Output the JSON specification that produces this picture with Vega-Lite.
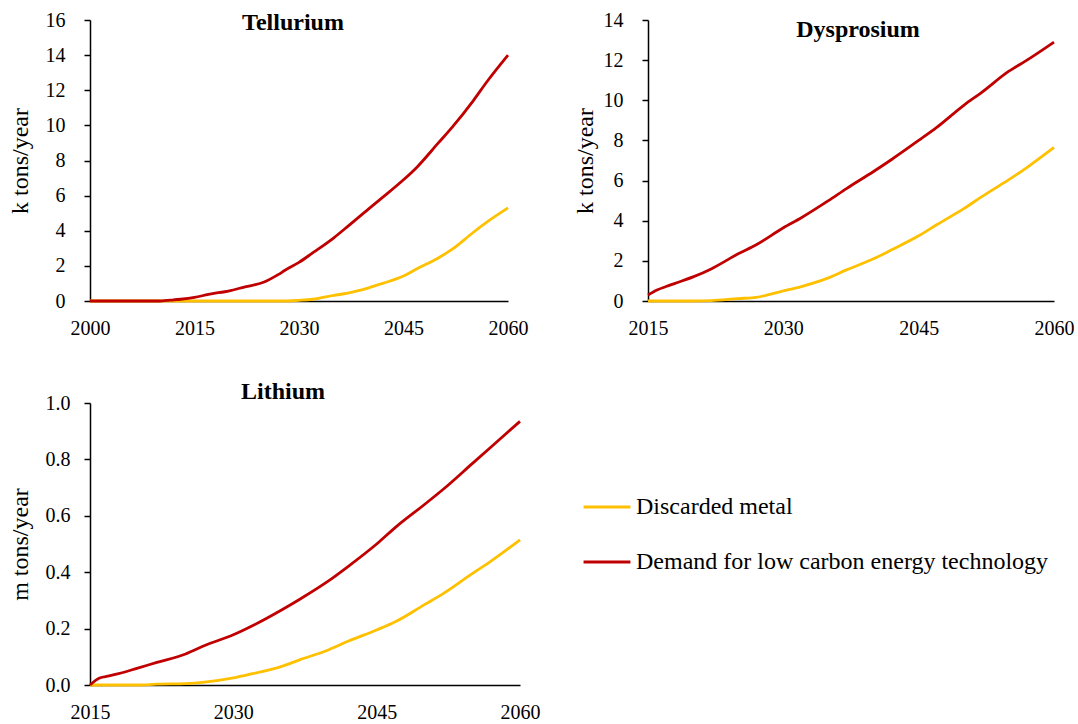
{
  "$schema": "https://vega.github.io/schema/vega-lite/v6.json",
  "background": "white",
  "padding": {"left": 8, "top": 10, "right": 0, "bottom": 0},
  "config": {
    "view": {"stroke": null},
    "font": "Liberation Serif, serif",
    "axis": {"labelFont": "Liberation Serif, serif", "labelFontSize": 20, "labelColor": "#000", "titleFont": "Liberation Serif, serif", "titleFontSize": 24, "titleFontWeight": "normal", "titleColor": "#000", "domainColor": "#000", "tickColor": "#000", "grid": false, "domainWidth": 1.5, "tickWidth": 1.5},
    "axisX": {"ticks": false, "labelPadding": 17, "labelFlush": false},
    "axisY": {"tickSize": 6, "labelPadding": 19, "titlePadding": 13},
    "title": {"font": "Liberation Serif, serif", "fontSize": 24, "fontWeight": "bold", "color": "#000", "frame": "group", "anchor": "middle"},
    "line": {"strokeWidth": 2.8, "interpolate": "monotone"}
  },
  "datasets": {
    "te": [
      {"year": 2000, "Discarded metal": 0, "Demand for low carbon energy technology": 0},
      {"year": 2005, "Discarded metal": 0, "Demand for low carbon energy technology": 0},
      {"year": 2010, "Discarded metal": 0, "Demand for low carbon energy technology": 0},
      {"year": 2011, "Discarded metal": 0, "Demand for low carbon energy technology": 0.03},
      {"year": 2012, "Discarded metal": 0, "Demand for low carbon energy technology": 0.07},
      {"year": 2013, "Discarded metal": 0, "Demand for low carbon energy technology": 0.1},
      {"year": 2015, "Discarded metal": 0, "Demand for low carbon energy technology": 0.2},
      {"year": 2017, "Discarded metal": 0, "Demand for low carbon energy technology": 0.38},
      {"year": 2020, "Discarded metal": 0, "Demand for low carbon energy technology": 0.58},
      {"year": 2022, "Discarded metal": 0, "Demand for low carbon energy technology": 0.78},
      {"year": 2025, "Discarded metal": 0, "Demand for low carbon energy technology": 1.08},
      {"year": 2027, "Discarded metal": 0, "Demand for low carbon energy technology": 1.5},
      {"year": 2028, "Discarded metal": 0, "Demand for low carbon energy technology": 1.75},
      {"year": 2030, "Discarded metal": 0.04, "Demand for low carbon energy technology": 2.2},
      {"year": 2032, "Discarded metal": 0.1, "Demand for low carbon energy technology": 2.75},
      {"year": 2035, "Discarded metal": 0.32, "Demand for low carbon energy technology": 3.6},
      {"year": 2037, "Discarded metal": 0.45, "Demand for low carbon energy technology": 4.25},
      {"year": 2040, "Discarded metal": 0.75, "Demand for low carbon energy technology": 5.25},
      {"year": 2042, "Discarded metal": 1.0, "Demand for low carbon energy technology": 5.9},
      {"year": 2045, "Discarded metal": 1.42, "Demand for low carbon energy technology": 6.9},
      {"year": 2047, "Discarded metal": 1.85, "Demand for low carbon energy technology": 7.65},
      {"year": 2050, "Discarded metal": 2.45, "Demand for low carbon energy technology": 9.0},
      {"year": 2052, "Discarded metal": 2.95, "Demand for low carbon energy technology": 9.9},
      {"year": 2055, "Discarded metal": 3.9, "Demand for low carbon energy technology": 11.4},
      {"year": 2057, "Discarded metal": 4.5, "Demand for low carbon energy technology": 12.5},
      {"year": 2060, "Discarded metal": 5.3, "Demand for low carbon energy technology": 14.0}
    ],
    "dy": [
      {"year": 2015, "Discarded metal": 0, "Demand for low carbon energy technology": 0.3},
      {"year": 2016, "Discarded metal": 0, "Demand for low carbon energy technology": 0.55},
      {"year": 2017, "Discarded metal": 0, "Demand for low carbon energy technology": 0.72},
      {"year": 2018, "Discarded metal": 0, "Demand for low carbon energy technology": 0.88},
      {"year": 2020, "Discarded metal": 0, "Demand for low carbon energy technology": 1.2},
      {"year": 2022, "Discarded metal": 0.02, "Demand for low carbon energy technology": 1.6},
      {"year": 2025, "Discarded metal": 0.12, "Demand for low carbon energy technology": 2.35},
      {"year": 2027, "Discarded metal": 0.18, "Demand for low carbon energy technology": 2.8},
      {"year": 2030, "Discarded metal": 0.5, "Demand for low carbon energy technology": 3.65},
      {"year": 2032, "Discarded metal": 0.72, "Demand for low carbon energy technology": 4.15},
      {"year": 2035, "Discarded metal": 1.15, "Demand for low carbon energy technology": 5.0},
      {"year": 2037, "Discarded metal": 1.55, "Demand for low carbon energy technology": 5.6},
      {"year": 2040, "Discarded metal": 2.1, "Demand for low carbon energy technology": 6.45},
      {"year": 2042, "Discarded metal": 2.55, "Demand for low carbon energy technology": 7.05},
      {"year": 2045, "Discarded metal": 3.25, "Demand for low carbon energy technology": 8.0},
      {"year": 2047, "Discarded metal": 3.8, "Demand for low carbon energy technology": 8.65},
      {"year": 2050, "Discarded metal": 4.6, "Demand for low carbon energy technology": 9.75},
      {"year": 2052, "Discarded metal": 5.2, "Demand for low carbon energy technology": 10.4},
      {"year": 2055, "Discarded metal": 6.05, "Demand for low carbon energy technology": 11.45},
      {"year": 2057, "Discarded metal": 6.65, "Demand for low carbon energy technology": 12.0},
      {"year": 2060, "Discarded metal": 7.65, "Demand for low carbon energy technology": 12.9}
    ],
    "li": [
      {"year": 2015, "Discarded metal": 0, "Demand for low carbon energy technology": 0},
      {"year": 2016, "Discarded metal": 0, "Demand for low carbon energy technology": 0.025},
      {"year": 2017, "Discarded metal": 0, "Demand for low carbon energy technology": 0.032},
      {"year": 2018, "Discarded metal": 0, "Demand for low carbon energy technology": 0.04},
      {"year": 2020, "Discarded metal": 0, "Demand for low carbon energy technology": 0.06},
      {"year": 2022, "Discarded metal": 0.003, "Demand for low carbon energy technology": 0.08},
      {"year": 2025, "Discarded metal": 0.005, "Demand for low carbon energy technology": 0.11},
      {"year": 2027, "Discarded metal": 0.01, "Demand for low carbon energy technology": 0.14},
      {"year": 2030, "Discarded metal": 0.025, "Demand for low carbon energy technology": 0.178},
      {"year": 2032, "Discarded metal": 0.04, "Demand for low carbon energy technology": 0.21},
      {"year": 2035, "Discarded metal": 0.065, "Demand for low carbon energy technology": 0.265},
      {"year": 2037, "Discarded metal": 0.09, "Demand for low carbon energy technology": 0.305},
      {"year": 2040, "Discarded metal": 0.125, "Demand for low carbon energy technology": 0.37},
      {"year": 2042, "Discarded metal": 0.155, "Demand for low carbon energy technology": 0.42},
      {"year": 2045, "Discarded metal": 0.195, "Demand for low carbon energy technology": 0.5},
      {"year": 2047, "Discarded metal": 0.225, "Demand for low carbon energy technology": 0.56},
      {"year": 2050, "Discarded metal": 0.285, "Demand for low carbon energy technology": 0.64},
      {"year": 2052, "Discarded metal": 0.325, "Demand for low carbon energy technology": 0.695},
      {"year": 2055, "Discarded metal": 0.395, "Demand for low carbon energy technology": 0.785},
      {"year": 2057, "Discarded metal": 0.44, "Demand for low carbon energy technology": 0.845},
      {"year": 2060, "Discarded metal": 0.515, "Demand for low carbon energy technology": 0.935}
    ]
  },
  "vconcat": [
    {
      "hconcat": [
        {
          "width": 418, "height": 281,
          "title": {"text": "Tellurium", "offset": -25, "dx": -6},
          "data": {"name": "te"},
          "transform": [{"fold": ["Discarded metal", "Demand for low carbon energy technology"], "as": ["series", "value"]}],
          "mark": {"type": "line"},
          "encoding": {
            "x": {"field": "year", "type": "quantitative", "scale": {"domain": [2000, 2060], "nice": false, "zero": false}, "axis": {"values": [2000, 2015, 2030, 2045, 2060], "format": "d", "title": null}},
            "y": {"field": "value", "type": "quantitative", "scale": {"domain": [0, 16], "nice": false}, "axis": {"values": [0, 2, 4, 6, 8, 10, 12, 14, 16], "title": "k tons/year"}},
            "color": {"field": "series", "type": "nominal", "sort": ["Discarded metal", "Demand for low carbon energy technology"], "scale": {"domain": ["Discarded metal", "Demand for low carbon energy technology"], "range": ["#FFC000", "#C00000"]}, "legend": null}
          }
        },
        {
          "width": 406, "height": 281,
          "title": {"text": "Dysprosium", "offset": -32, "dx": 7},
          "data": {"name": "dy"},
          "transform": [{"fold": ["Discarded metal", "Demand for low carbon energy technology"], "as": ["series", "value"]}],
          "mark": {"type": "line"},
          "encoding": {
            "x": {"field": "year", "type": "quantitative", "scale": {"domain": [2015, 2060], "nice": false, "zero": false}, "axis": {"values": [2015, 2030, 2045, 2060], "format": "d", "title": null}},
            "y": {"field": "value", "type": "quantitative", "scale": {"domain": [0, 14], "nice": false}, "axis": {"values": [0, 2, 4, 6, 8, 10, 12, 14], "title": "k tons/year", "titlePadding": 6}},
            "color": {"field": "series", "type": "nominal", "sort": ["Discarded metal", "Demand for low carbon energy technology"], "scale": {"domain": ["Discarded metal", "Demand for low carbon energy technology"], "range": ["#FFC000", "#C00000"]}, "legend": null}
          }
        }
      ],
      "spacing": 45
    },
    {
      "width": 430, "height": 282,
      "title": {"text": "Lithium", "offset": -11, "dx": -22},
      "data": {"name": "li"},
      "transform": [{"fold": ["Discarded metal", "Demand for low carbon energy technology"], "as": ["series", "value"]}],
      "mark": {"type": "line"},
      "encoding": {
        "x": {"field": "year", "type": "quantitative", "scale": {"domain": [2015, 2060], "nice": false, "zero": false}, "axis": {"values": [2015, 2030, 2045, 2060], "format": "d", "title": null}},
        "y": {"field": "value", "type": "quantitative", "scale": {"domain": [0, 1], "nice": false}, "axis": {"values": [0, 0.2, 0.4, 0.6, 0.8, 1.0], "format": ".1f", "title": "m tons/year", "labelPadding": 14, "titlePadding": 13}},
        "color": {"field": "series", "type": "nominal", "sort": ["Discarded metal", "Demand for low carbon energy technology"], "scale": {"domain": ["Discarded metal", "Demand for low carbon energy technology"], "range": ["#FFC000", "#C00000"]},
          "legend": {"orient": "none", "legendX": 492, "legendY": 79, "title": null, "direction": "vertical", "symbolType": "stroke", "symbolSize": 2200, "symbolStrokeWidth": 3, "labelFont": "Liberation Serif, serif", "labelFontSize": 24, "labelColor": "#000", "labelLimit": 700, "rowPadding": 18, "labelOffset": 4, "padding": 0}}
      }
    }
  ],
  "spacing": 42,
  "resolve": {"scale": {"color": "independent"}, "legend": {"color": "independent"}}
}
